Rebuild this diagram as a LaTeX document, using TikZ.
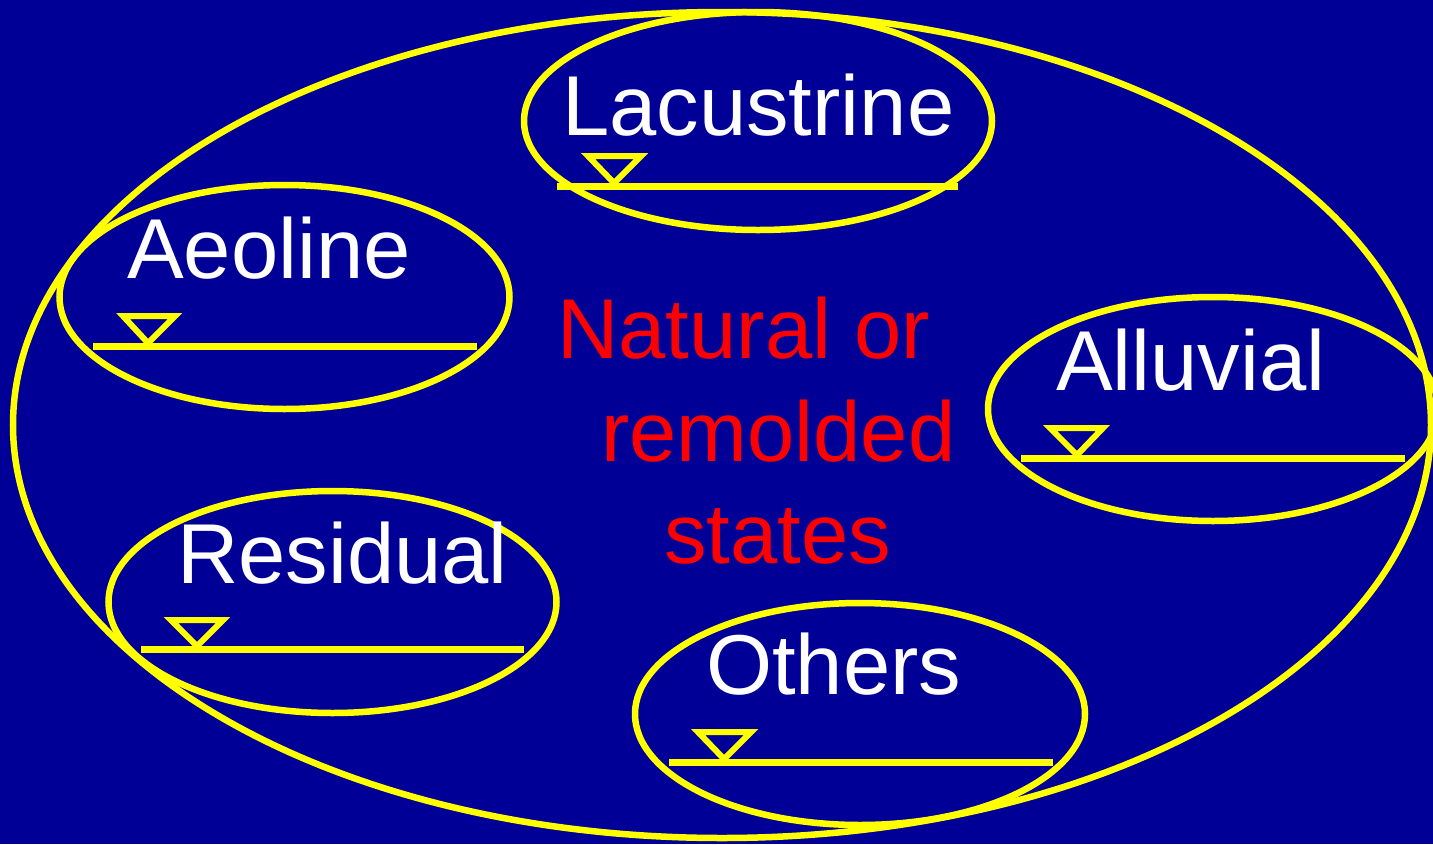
\documentclass[tikz,border=0pt]{standalone}
\usepackage{fontspec}
\setmainfont{Liberation Sans}
\definecolor{bgblue}{RGB}{0,0,150}
\definecolor{ylw}{RGB}{255,255,0}
\begin{document}
\begin{tikzpicture}[x=1pt,y=-1pt,
  ring/.style={draw=ylw,line width=6.5pt},
  water/.style={draw=ylw,line width=7pt},
  tri/.style={draw=ylw,line width=6pt,line join=miter},
  lbl/.style={text=white,anchor=base west,inner sep=0pt,font=\fontsize{85}{100}\selectfont},
  redlbl/.style={text=red,anchor=base west,inner sep=0pt,font=\fontsize{85}{100}\selectfont}]
\fill[bgblue] (0,0) rectangle (1433,844);
\useasboundingbox (0,0) rectangle (1433,844);
% big ellipse
\draw[ring] (722,425) ellipse [x radius=709, y radius=413];
% Lacustrine
\draw[ring] (758,121) ellipse [x radius=234, y radius=109];
\node[lbl] (lac) at (562,135) {Lacustrine};
\draw[water] (557,186) -- (958,186);
\draw[tri] (588,156) -- (641,156) -- (614,183) -- cycle;
% Aeoline
\draw[ring] (284.5,297) ellipse [x radius=225, y radius=112];
\node[lbl] (aeo) at (127,278) {Aeoline};
\draw[water] (93,346) -- (477,346);
\draw[tri] (123,316) -- (175,316) -- (148,343) -- cycle;
% Alluvial
\draw[ring] (1213,409) ellipse [x radius=225, y radius=112];
\node[lbl] (all) at (1056,390) {Alluvial};
\draw[water] (1021,458) -- (1405,458);
\draw[tri] (1050,428) -- (1103,428) -- (1077,455) -- cycle;
% Residual
\draw[ring] (332.5,602) ellipse [x radius=224, y radius=111];
\node[lbl] (res) at (177,583) {Residual};
\draw[water] (141,649) -- (524,649);
\draw[tri] (171,620) -- (223,620) -- (197,646) -- cycle;
% Others
\draw[ring] (860,714) ellipse [x radius=225, y radius=111];
\node[lbl] (oth) at (706,694) {Others};
\draw[water] (669,762) -- (1053,762);
\draw[tri] (698,732) -- (751,732) -- (724,759) -- cycle;
% centre text
\node[redlbl] (nat) at (557,358) {Natural or};
\node[redlbl] (rem) at (601,461) {remolded};
\node[redlbl] (sta) at (664,563) {states};
\end{tikzpicture}
\end{document}
